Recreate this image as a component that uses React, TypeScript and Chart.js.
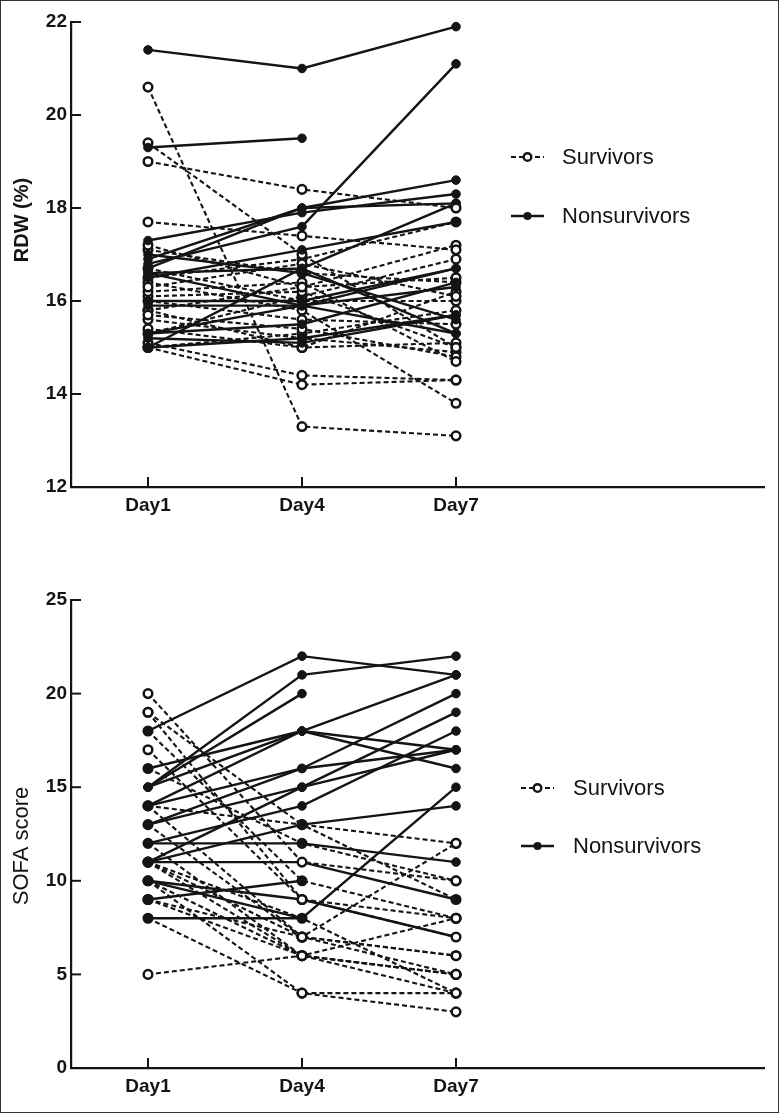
import React, { useEffect, useRef } from 'react';
import { Chart, registerables } from 'chart.js';

Chart.register(...registerables);

// ---------- data ----------
const DAYS = ['Day1', 'Day4', 'Day7'];
const DAY_POS = [0.5, 1.5, 2.5];

const RDW_TICKS = [12, 14, 16, 18, 20, 22];
const SOFA_TICKS = [0, 5, 10, 15, 20, 25];

// RDW (%) per patient: [Day1, Day4, Day7]
const rdwNonsurvivors: (number | null)[][] = [
  [21.4, 21.0, 21.9],
  [16.8, 17.6, 21.1],
  [19.3, 19.5, null],
  [16.9, 18.0, 18.6],
  [17.3, 17.9, 18.3],
  [16.7, 18.0, 18.1],
  [15.0, 16.7, 18.1],
  [16.5, 17.1, 17.7],
  [15.3, 15.9, 16.7],
  [15.9, 15.9, 16.3],
  [16.6, 16.7, 15.3],
  [17.0, 16.6, 15.6],
  [15.0, 15.2, 15.7],
  [15.3, 15.5, 16.4],
  [16.6, 15.9, 15.3],
  [15.2, 15.1, 15.7],
  [16.0, 16.0, 16.7],
];

const rdwSurvivors: (number | null)[][] = [
  [20.6, 13.3, 13.1],
  [19.4, 17.0, 15.0],
  [19.0, 18.4, 18.0],
  [17.7, 17.4, 17.1],
  [17.2, 16.3, 17.2],
  [16.3, 16.8, 16.1],
  [16.2, 16.4, 14.7],
  [16.4, 15.8, 13.8],
  [15.1, 14.4, 14.3],
  [15.0, 14.2, 14.3],
  [16.1, 16.2, 15.0],
  [15.7, 15.4, 14.8],
  [15.6, 15.2, 14.9],
  [16.5, 16.9, 17.7],
  [15.8, 16.3, 16.5],
  [15.4, 15.0, 15.1],
  [15.0, 15.3, 15.8],
  [16.7, 16.0, 16.0],
  [17.1, 16.6, 16.4],
  [15.3, 16.1, 16.9],
  [16.0, 15.6, 15.5],
  [15.8, 15.0, 16.2],
];

// SOFA score per patient: [Day1, Day4, Day7]
const sofaNonsurvivors: (number | null)[][] = [
  [18, 22, 21],
  [15, 21, 22],
  [15, 20, null],
  [16, 18, 21],
  [15, 18, 17],
  [14, 18, 16],
  [14, 16, 20],
  [13, 16, 17],
  [11, 15, 19],
  [13, 15, 17],
  [12, 14, 18],
  [11, 13, 14],
  [12, 12, 11],
  [11, 11, 9],
  [10, 9, 7],
  [9, 10, null],
  [10, 8, 15],
  [8, 8, null],
];

const sofaSurvivors: (number | null)[][] = [
  [20, 11, 10],
  [19, 13, 12],
  [18, 10, 8],
  [17, 9, 8],
  [16, 12, 10],
  [14, 13, 9],
  [14, 7, 5],
  [13, 7, 6],
  [12, 6, 4],
  [19, 9, 7],
  [11, 7, 12],
  [11, 6, 5],
  [10, 6, 5],
  [10, 4, 4],
  [9, 7, 6],
  [8, 4, 3],
  [5, 6, 8],
  [11, 8, 4],
  [9, 6, 5],
];

// ---------- styling ----------
const INK = '#141414';
const FONT = '"Liberation Sans", Arial, Helvetica, sans-serif';

type PanelCfg = {
  survivors: (number | null)[][];
  nonsurvivors: (number | null)[][];
  ticks: number[];
  openVisible: number[][]; // values per day where open markers show on top
  yTitle: string;
  yTitleFont: string;
  yTitleY: number;
  height: number;
  areaTop: number;
  areaBottom: number;
  legendX: number;
  legendTextX: number;
  legendY1: number;
  legendY2: number;
};

function toPoints(row: (number | null)[]) {
  const pts: { x: number; y: number }[] = [];
  row.forEach((v, i) => {
    if (v !== null && v !== undefined) pts.push({ x: DAY_POS[i], y: v });
  });
  return pts;
}

const decorPlugin = {
  id: 'panelDecor',
  afterDraw(chart: any, _args: any, opts: any) {
    const ctx = chart.ctx as CanvasRenderingContext2D;
    const { left, bottom } = chart.chartArea;
    const xs = chart.scales.x;
    const ys = chart.scales.y;
    ctx.save();
    ctx.strokeStyle = INK;
    ctx.fillStyle = INK;
    ctx.lineWidth = 2;
    ctx.setLineDash([]);
    // inward tick marks
    ys.ticks.forEach((t: any) => {
      const py = ys.getPixelForValue(t.value);
      ctx.beginPath();
      ctx.moveTo(left, py);
      ctx.lineTo(left + 10, py);
      ctx.stroke();
    });
    xs.ticks.forEach((t: any) => {
      const px = xs.getPixelForValue(t.value);
      ctx.beginPath();
      ctx.moveTo(px, bottom);
      ctx.lineTo(px, bottom - 10);
      ctx.stroke();
    });

    // y title
    ctx.save();
    ctx.translate(22, opts.yTitleY);
    ctx.rotate(-Math.PI / 2);
    ctx.textAlign = 'center';
    ctx.textBaseline = 'middle';
    ctx.font = opts.yTitleFont;
    ctx.fillText(opts.yTitle, 0, 0);
    ctx.restore();

    // legend
    const x1 = opts.legendX;
    const x2 = opts.legendX + 33;
    const mx = (x1 + x2) / 2;
    // survivors
    ctx.lineWidth = 2.2;
    ctx.setLineDash([5, 3]);
    ctx.beginPath();
    ctx.moveTo(x1, opts.legendY1);
    ctx.lineTo(x2, opts.legendY1);
    ctx.stroke();
    ctx.setLineDash([]);
    ctx.beginPath();
    ctx.arc(mx, opts.legendY1, 3.8, 0, Math.PI * 2);
    ctx.fillStyle = '#fff';
    ctx.fill();
    ctx.lineWidth = 2.4;
    ctx.stroke();
    // nonsurvivors
    ctx.fillStyle = INK;
    ctx.lineWidth = 2.6;
    ctx.beginPath();
    ctx.moveTo(x1, opts.legendY2);
    ctx.lineTo(x2, opts.legendY2);
    ctx.stroke();
    ctx.beginPath();
    ctx.arc(mx, opts.legendY2, 4, 0, Math.PI * 2);
    ctx.fill();

    ctx.font = `22px ${FONT}`;
    ctx.textAlign = 'left';
    ctx.textBaseline = 'middle';
    ctx.fillStyle = INK;
    ctx.fillText('Survivors', opts.legendTextX, opts.legendY1 + 1);
    ctx.fillText('Nonsurvivors', opts.legendTextX, opts.legendY2 + 1);
    ctx.restore();
  },
};

function Panel({ cfg }: { cfg: PanelCfg }) {
  const ref = useRef<HTMLCanvasElement | null>(null);
  useEffect(() => {
    if (!ref.current) return;
    const datasets: any[] = [];
    cfg.nonsurvivors.forEach((row, i) => {
      datasets.push({
        label: 'Nonsurvivors ' + (i + 1),
        data: toPoints(row),
        order: 1,
        borderColor: INK,
        borderWidth: 2.4,
        pointRadius: 4.3,
        pointBackgroundColor: INK,
        pointBorderColor: INK,
        pointBorderWidth: 1,
        showLine: true,
        fill: false,
        tension: 0,
      });
    });
    cfg.survivors.forEach((row, i) => {
      // survivors whose every marker is an "open-visible" one are drawn on top
      const onTop = row.every((v, d) => v === null || cfg.openVisible[d].indexOf(v as number) >= 0);
      datasets.push({
        label: 'Survivors ' + (i + 1),
        data: toPoints(row),
        order: onTop ? 0 : 2,
        borderColor: INK,
        borderWidth: 2.1,
        borderDash: [5, 3],
        pointRadius: 4.3,
        pointBackgroundColor: '#fff',
        pointBorderColor: INK,
        pointBorderWidth: 2.5,
        showLine: true,
        fill: false,
        tension: 0,
      });
    });
    const xHeight = cfg.height - cfg.areaBottom;
    const chart = new Chart(ref.current, {
      type: 'line',
      data: { datasets },
      plugins: [decorPlugin as any],
      options: {
        responsive: false,
        animation: false,
        events: [],
        clip: false as any,
        layout: { padding: { top: cfg.areaTop, left: 0, right: 15, bottom: 0 } },
        plugins: {
          legend: { display: false },
          tooltip: { enabled: false },
          panelDecor: cfg as any,
        } as any,
        scales: {
          x: {
            type: 'linear',
            min: 0,
            max: 4.5,
            grid: { display: false, drawTicks: false },
            border: { display: true, color: INK, width: 2.2 },
            ticks: {
              padding: 7,
              color: INK,
              font: { family: FONT, size: 19, weight: 'bold' },
              callback: (_v: any, i: number) => DAYS[i],
            },
            afterBuildTicks: (s: any) => {
              s.ticks = DAY_POS.map((v) => ({ value: v }));
            },
            afterFit: (s: any) => {
              s.height = xHeight;
            },
          },
          y: {
            type: 'linear',
            min: cfg.ticks[0],
            max: cfg.ticks[cfg.ticks.length - 1],
            grid: { display: false, drawTicks: false },
            border: { display: true, color: INK, width: 2.2 },
            ticks: {
              padding: 4,
              color: INK,
              font: { family: FONT, size: 19, weight: 'bold' },
            },
            afterBuildTicks: (s: any) => {
              s.ticks = cfg.ticks.map((v) => ({ value: v }));
            },
            afterFit: (s: any) => {
              s.width = 71;
            },
          },
        },
      } as any,
    });
    return () => chart.destroy();
  }, [cfg]);
  return <canvas ref={ref} width={779} height={cfg.height} style={{ display: 'block', width: 779, height: cfg.height }} />;
}

const topCfg: PanelCfg = {
  survivors: rdwSurvivors,
  nonsurvivors: rdwNonsurvivors,
  ticks: RDW_TICKS,
  openVisible: [[20.6, 19.4, 19.0, 17.7], [18.4, 17.4, 14.4, 14.2, 13.3], [18.0, 17.1, 17.2, 14.3, 13.8, 13.1]],
  yTitle: 'RDW (%)',
  yTitleFont: `bold 20px ${FONT}`,
  yTitleY: 220,
  height: 556,
  areaTop: 22,
  areaBottom: 487,
  legendX: 511,
  legendTextX: 562,
  legendY1: 157,
  legendY2: 216,
};

const bottomCfg: PanelCfg = {
  survivors: sofaSurvivors,
  nonsurvivors: sofaNonsurvivors,
  ticks: SOFA_TICKS,
  openVisible: [[20, 19, 17, 5], [11, 9, 7, 6, 4], [12, 10, 9, 8, 7, 6, 5, 4, 3]],
  yTitle: 'SOFA score',
  yTitleFont: `22px ${FONT}`,
  yTitleY: 846 - 556,
  height: 557,
  areaTop: 44,
  areaBottom: 512,
  legendX: 521,
  legendTextX: 573,
  legendY1: 788 - 556,
  legendY2: 846 - 556,
};

export default function App() {
  return (
    <div style={{ position: 'absolute', left: 0, top: 0, width: 779, height: 1113, background: '#fff', overflow: 'hidden' }}>
      <div style={{ position: 'absolute', left: 0, top: 0 }}>
        <Panel cfg={topCfg} />
      </div>
      <div style={{ position: 'absolute', left: 0, top: 556 }}>
        <Panel cfg={bottomCfg} />
      </div>
      <div
        style={{
          position: 'absolute',
          left: 0,
          top: 0,
          width: 779,
          height: 1113,
          boxSizing: 'border-box',
          border: '1.5px solid #333',
          pointerEvents: 'none',
        }}
      />
    </div>
  );
}
